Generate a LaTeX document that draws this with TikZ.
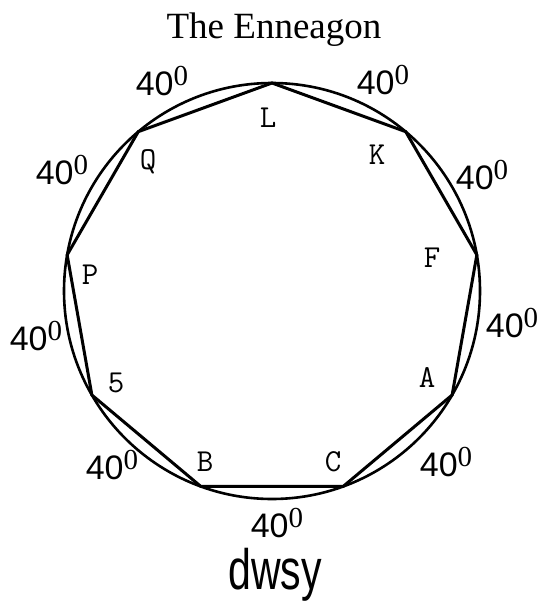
\documentclass[tikz,border=0pt]{standalone}
\usepackage{fontspec}
\usepackage{graphicx}
\setmainfont{Liberation Serif}
\setsansfont{Liberation Sans}
\usetikzlibrary{calc}
\definecolor{ink}{RGB}{0,0,0}
\tikzset{
    line cap=round,
    rim/.style={draw=ink, line width=2.6pt},
    edge/.style={draw=ink, line width=3pt, line join=miter},
    titletext/.style={font=\rmfamily\fontsize{37}{40}\selectfont, text=ink, inner sep=0pt},
    vertexlabel/.style={font=\ttfamily\fontsize{32}{34}\selectfont, text=ink, inner sep=0pt},
    anglelabel/.style={font=\sffamily\fontsize{34}{36}\selectfont, text=ink, inner sep=0pt},
    signature/.style={font=\sffamily\fontsize{57}{60}\selectfont, text=ink, inner sep=0pt}
}
\newcommand{\arcdeg}{40\raisebox{10pt}{\rmfamily\fontsize{29}{29}\selectfont 0}}

\begin{document}
\begin{tikzpicture}[x=1pt, y=-1pt]

\useasboundingbox (0,0) rectangle (544,605);

\def\cx{272}
\def\cy{291}
\def\rad{208}

\node[titletext, anchor=base] (title) at (274, 38) {The Enneagon};

% circumscribed circle
\coordinate (centre) at (\cx, \cy);
\draw[rim] (centre) circle[radius=\rad];

% corners of the enneagon, every 40 degrees from the top
\foreach \k in {0,...,8} {
    \pgfmathsetmacro{\ang}{90 + 40 * \k}
    \coordinate (v\k) at ($(centre) + ({\rad * cos(\ang)}, {-\rad * sin(\ang)})$);
}
\draw[edge] (v0) -- (v1) -- (v2) -- (v3) -- (v4) -- (v5) -- (v6) -- (v7) -- (v8) -- cycle;

% corner letters
\foreach \name/\x/\y in {
    L/268/118,
    Q/148/162,
    P/90/275,
    5/116/383,
    B/205/462,
    C/333/462,
    A/427/377,
    F/432/258,
    K/377/155
} {
    \node[vertexlabel] (lbl\name) at (\x, \y) {\name};
}

% arc labels
\foreach \i/\x/\y in {
    1/162/81,
    2/62/170,
    3/36/336,
    4/112/465,
    5/277/523,
    6/446/462,
    7/512/323,
    8/482/175,
    9/383/80
} {
    \node[anglelabel] (arc\i) at (\x, \y) {\arcdeg};
}

\node[signature, anchor=base] (sign) at (275, 589) {\scalebox{0.72}[1]{dwsy}};

\end{tikzpicture}
\end{document}
